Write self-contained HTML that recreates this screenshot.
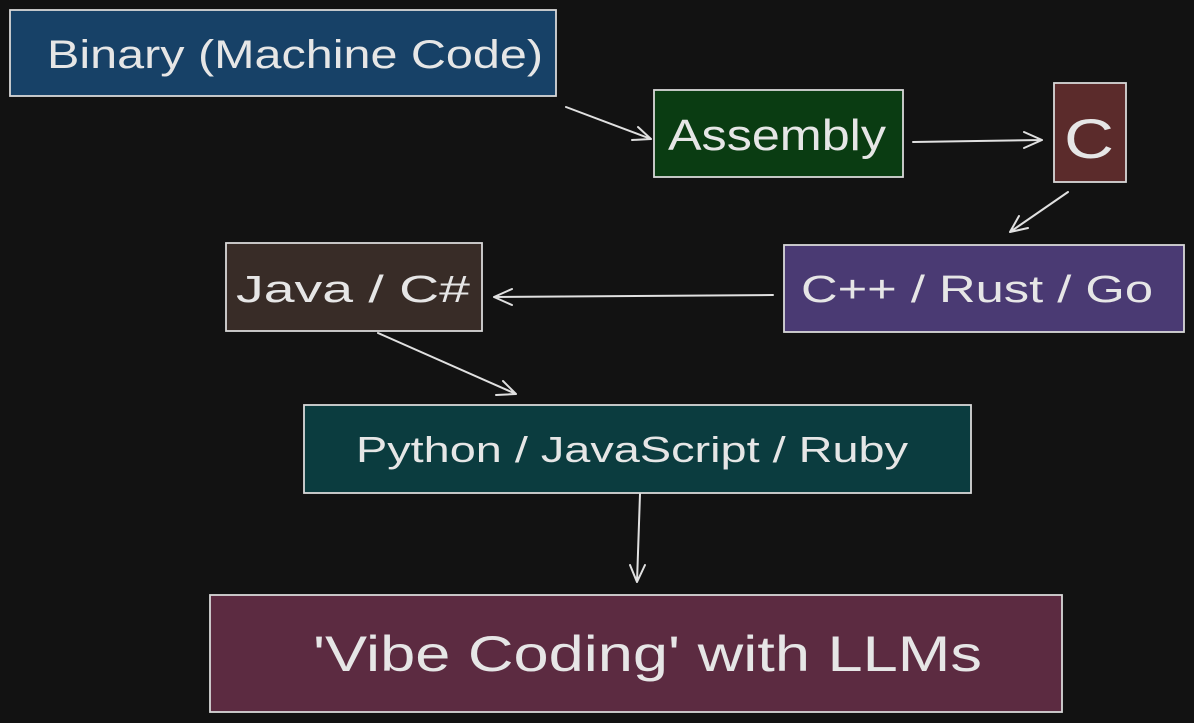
<!DOCTYPE html>
<html><head><style>html,body{margin:0;padding:0;background:#121212;}svg{display:block}</style></head>
<body>
<svg width="1194" height="723" viewBox="0 0 1194 723" xmlns="http://www.w3.org/2000/svg" font-family="Liberation Sans, sans-serif" fill="#e6e6e6">
<rect width="1194" height="723" fill="#121212"/>
<g stroke="#d8d8d8" stroke-width="1.8">
<rect x="10" y="10" width="546" height="86" fill="#174167"/>
<rect x="654" y="90" width="249" height="87" fill="#0a3c12"/>
<rect x="1054" y="83" width="72" height="99" fill="#5b2b2b"/>
<rect x="784" y="245" width="400" height="87" fill="#4a3a73"/>
<rect x="226" y="243" width="256" height="88" fill="#382c27"/>
<rect x="304" y="405" width="667" height="88" fill="#0b3c3f"/>
<rect x="210" y="595" width="852" height="117" fill="#5c2b41"/>
</g>
<g font-size="40">
<text x="47" y="68" textLength="496" lengthAdjust="spacingAndGlyphs">Binary (Machine Code)</text>
<text x="668" y="150" font-size="44" textLength="218" lengthAdjust="spacingAndGlyphs">Assembly</text>
<text x="1064" y="158" font-size="56" textLength="50" lengthAdjust="spacingAndGlyphs">C</text>
<text x="801" y="302" font-size="38" textLength="352" lengthAdjust="spacingAndGlyphs">C++ / Rust / Go</text>
<text x="236" y="302" font-size="38" textLength="234" lengthAdjust="spacingAndGlyphs">Java / C#</text>
<text x="356" y="462" font-size="36" textLength="552" lengthAdjust="spacingAndGlyphs">Python / JavaScript / Ruby</text>
<text x="313" y="671" font-size="50" textLength="669" lengthAdjust="spacingAndGlyphs">'Vibe Coding' with LLMs</text>
</g>
<g stroke="#e0e0e0" stroke-width="2" fill="none" stroke-linecap="round">
<path d="M566 107 L651 139 M651 139 L632 140 M651 139 L638 127"/>
<path d="M913 142 L1042 140 M1042 140 L1024 132 M1042 140 L1024 148"/>
<path d="M1068 192 L1010 232 M1010 232 L1028 228 M1010 232 L1019 216"/>
<path d="M773 295 L494 297 M494 297 L512 289 M494 297 L512 305"/>
<path d="M378 333 L516 394 M516 394 L503 381 M516 394 L496 395"/>
<path d="M640 494 L637 582 M637 582 L630 565 M637 582 L645 565"/>
</g>
</svg>
</body></html>
